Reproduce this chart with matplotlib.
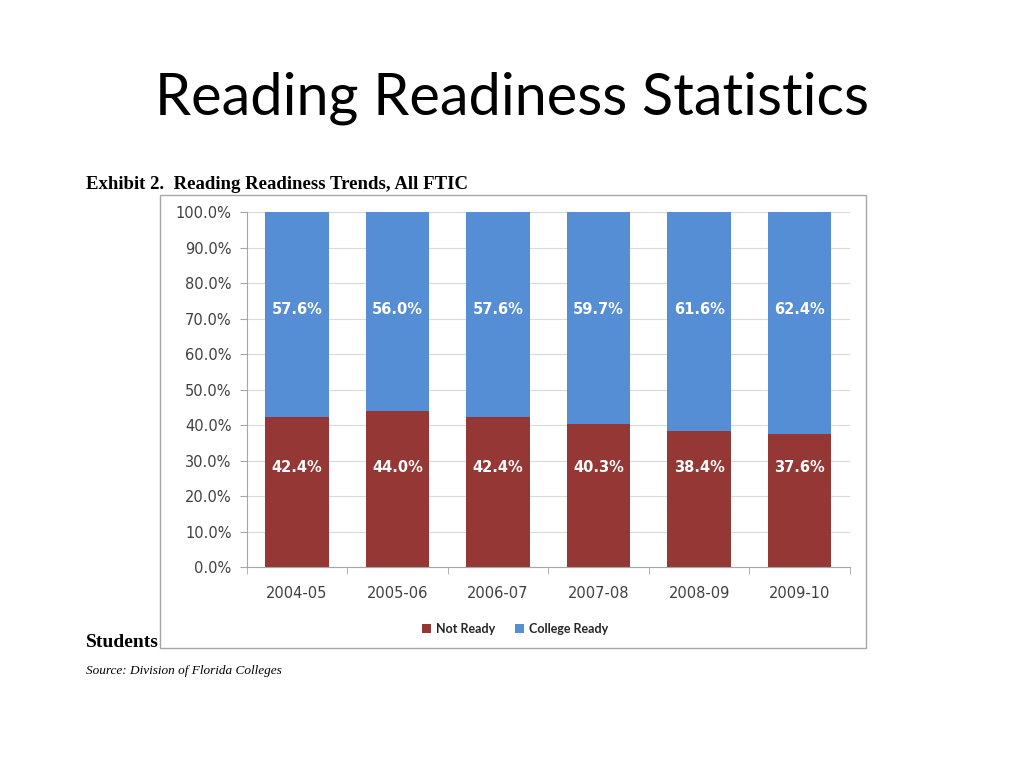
import matplotlib.pyplot as plt
from matplotlib.patches import Rectangle
import numpy as np

# values
years = ["2004-05", "2005-06", "2006-07", "2007-08", "2008-09", "2009-10"]
not_ready = [42.4, 44.0, 42.4, 40.3, 38.4, 37.6]
college_ready = [57.6, 56.0, 57.6, 59.7, 61.6, 62.4]
y_ticks = [0, 10, 20, 30, 40, 50, 60, 70, 80, 90, 100]

RED = "#953735"
BLUE = "#558ED5"
TICK_COLOR = "#404040"

fig = plt.figure(figsize=(10.24, 7.68), dpi=100)

# slide title
fig.text(0.5, 0.872, "Reading Readiness Statistics", ha="center", va="center",
         fontsize=41.5, family="Lato")

# exhibit caption above the chart box
fig.text(0.084, 0.760, "Exhibit 2.  Reading Readiness Trends, All FTIC",
         ha="left", va="center", fontsize=13.5, family="Liberation Serif",
         weight="bold")

# chart frame
fig.patches.append(Rectangle((0.15625, 0.15625), 0.6895, 0.5898,
                             transform=fig.transFigure, fill=False,
                             edgecolor="#a6a6a6", lw=1.0))

ax = fig.add_axes([0.241, 0.2617, 0.589, 0.4622])
x = np.arange(len(years))
ax.bar(x, not_ready, width=0.63, color=RED, zorder=2, label="Not Ready")
ax.bar(x, college_ready, width=0.63, bottom=not_ready, color=BLUE, zorder=2,
       label="College Ready")

for xi, nr, cr in zip(x, not_ready, college_ready):
    ax.text(xi, 28, f"{nr:.1f}%", ha="center", va="center", color="white",
            fontsize=10.5, weight="bold", family="DejaVu Sans")
    ax.text(xi, 72.5, f"{cr:.1f}%", ha="center", va="center", color="white",
            fontsize=10.5, weight="bold", family="DejaVu Sans")

ax.set_xlim(-0.5, len(years) - 0.5)
ax.set_ylim(0, 100)
ax.set_yticks(y_ticks)
ax.set_yticklabels([f"{v:.1f}%" for v in y_ticks])
ax.set_xticks(x)
ax.set_xticklabels(years)
ax.set_xticks(np.arange(len(years) + 1) - 0.5, minor=True)
ax.tick_params(axis="x", which="major", length=0, pad=14, labelsize=10.5,
               labelcolor=TICK_COLOR)
ax.tick_params(axis="x", which="minor", length=5, color="#a6a6a6")
ax.tick_params(axis="y", length=5, color="#a6a6a6", labelsize=10.5,
               labelcolor=TICK_COLOR, pad=6)
ax.grid(axis="y", color="#d9d9d9", lw=0.8, zorder=0)
for side in ("top", "right"):
    ax.spines[side].set_visible(False)
for side in ("left", "bottom"):
    ax.spines[side].set_color("#a6a6a6")

leg = ax.legend(loc="center", bbox_to_anchor=(0.445, -0.175), ncol=2,
                frameon=False, handlelength=0.7, handleheight=0.7,
                handletextpad=0.4, columnspacing=1.6,
                prop={"family": "Lato", "weight": "bold", "size": 9})
for t in leg.get_texts():
    t.set_color("#262626")

fig.text(0.084, 0.164, "Students", ha="left", va="center", fontsize=14,
         family="Liberation Serif", weight="bold")
fig.text(0.084, 0.126, "Source: Division of Florida Colleges", ha="left",
         va="center", fontsize=9.5, family="Liberation Serif", style="italic")

fig.savefig("out.png", dpi=100)
